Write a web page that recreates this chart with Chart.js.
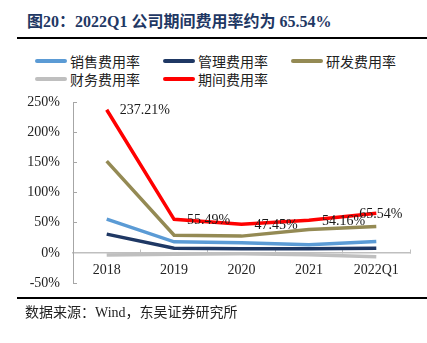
<!DOCTYPE html>
<html>
<head>
<meta charset="utf-8">
<script src="https://cdn.jsdelivr.net/npm/chart.js@4/dist/chart.umd.min.js"></script>
<style>
  html, body { margin: 0; padding: 0; background: #fff; }
  #wrap { position: relative; width: 427px; height: 343px; overflow: hidden; }
  #c { position: absolute; left: 0; top: 0; }
  .title { position: absolute; left: 27px; top: 12px; font-family: "Liberation Serif", "Noto Sans CJK SC", serif; font-weight: bold; font-size: 16px; color: #1F3864; white-space: nowrap; line-height: 20px; }
  .rule { position: absolute; left: 17px; width: 410px; height: 2px; background: #000; }
  .leg { position: absolute; height: 18px; display: flex; align-items: center; font-family: "Noto Sans CJK SC", sans-serif; font-size: 14px; color: #222; white-space: nowrap; }
  .leg i { display: inline-block; width: 32px; height: 4px; margin-right: 3px; border-radius: 2px; }
  .src { position: absolute; left: 25px; top: 304px; font-family: "Liberation Serif", "Noto Sans CJK SC", serif; font-size: 14px; color: #222; white-space: nowrap; line-height: 18px; }
</style>
</head>
<body>
<div id="wrap">
  <div class="title">图20：2022Q1 公司期间费用率约为 65.54%</div>
  <div class="rule" style="top:37px"></div>
  <div id="legend"></div>
  <canvas id="c" width="427" height="343"></canvas>
  <div class="rule" style="top:297px"></div>
  <div class="src">数据来源：Wind，东吴证券研究所</div>
</div>
<script>
const categories = ["2018", "2019", "2020", "2021", "2022Q1"];
const seriesNames = ["销售费用率", "管理费用率", "研发费用率", "财务费用率", "期间费用率"];
const salesRate = [56, 18.3, 16.7, 13.3, 18.8];
const adminRate = [31, 7.7, 6.7, 6.7, 7.7];
const rdRate = [152, 29.3, 27.7, 38.8, 43.8];
const financeRate = [-3.5, -2.3, -1.7, -3.3, -6.5];
const periodRate = [237.21, 55.49, 47.45, 54.16, 65.54];
const periodLabels = ["237.21%", "55.49%", "47.45%", "54.16%", "65.54%"];
const yTicks = [-50, 0, 50, 100, 150, 200, 250];
const colors = ["#5B9BD5", "#1F3864", "#948A54", "#BFBFBF", "#FF0000"];

// HTML legend
const legendPos = [[35, 52], [163, 52], [291, 52], [35, 70], [163, 70]];
const legendEl = document.getElementById('legend');
seriesNames.forEach((n, i) => {
  const d = document.createElement('div');
  d.className = 'leg';
  d.style.left = legendPos[i][0] + 'px';
  d.style.top = legendPos[i][1] + 'px';
  d.innerHTML = '<i style="background:' + colors[i] + '"></i>' + n;
  legendEl.appendChild(d);
});

const labelPlugin = {
  id: 'periodLabels',
  afterDatasetsDraw(chart) {
    const meta = chart.getDatasetMeta(4);
    const ctx = chart.ctx;
    ctx.save();
    ctx.font = '14px "Liberation Serif", "Times New Roman", serif';
    ctx.fillStyle = '#1a1a1a';
    ctx.textBaseline = 'middle';
    ctx.textAlign = 'left';
    meta.data.forEach((pt, i) => {
      const dx = i === meta.data.length - 1 ? -17 : 13;
      ctx.fillText(periodLabels[i], pt.x + dx, pt.y + 1);
    });
    ctx.restore();
  }
};

const allSeries = [salesRate, adminRate, rdRate, financeRate, periodRate];
const tickFont = { family: '"Liberation Serif", "Times New Roman", serif', size: 14 };

new Chart(document.getElementById('c'), {
  type: 'line',
  data: {
    labels: categories,
    datasets: allSeries.map((d, i) => ({
      label: seriesNames[i],
      data: d,
      borderColor: colors[i],
      backgroundColor: colors[i],
      borderWidth: 3.5,
      pointRadius: 0,
      tension: 0,
      fill: false
    }))
  },
  options: {
    responsive: false,
    devicePixelRatio: 1,
    animation: false,
    layout: { padding: { left: 0, top: 102, right: 17, bottom: 60 } },
    plugins: { legend: { display: false }, tooltip: { enabled: false } },
    scales: {
      x: {
        type: 'category',
        offset: true,
        position: { y: 0 },
        afterFit(s) { s.height = 0; },
        grid: { drawOnChartArea: false, drawTicks: true, tickLength: -4, color: '#bfbfbf', lineWidth: 1, offset: true },
        border: { color: '#bfbfbf', width: 1.5 },
        ticks: { font: tickFont, color: '#222', padding: 13, maxRotation: 0, autoSkip: false }
      },
      y: {
        min: -50,
        max: 250,
        afterFit(s) { s.width = 73; },
        afterBuildTicks(s) { s.ticks = yTicks.map(v => ({ value: v })); },
        grid: { drawOnChartArea: false, drawTicks: true, tickLength: -4, color: '#a6a6a6', lineWidth: 1 },
        border: { color: '#a6a6a6', width: 1 },
        ticks: { font: tickFont, color: '#222', padding: 17, callback: v => v + '%' }
      }
    }
  },
  plugins: [labelPlugin]
});
</script>
</body>
</html>
